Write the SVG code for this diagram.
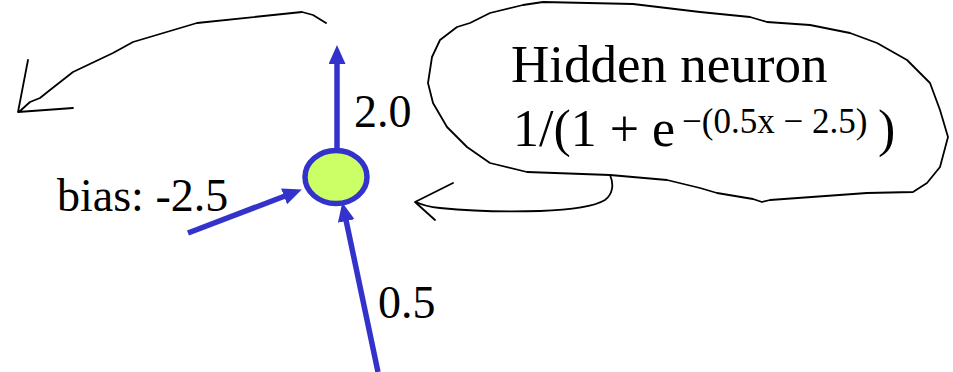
<svg xmlns="http://www.w3.org/2000/svg" width="953" height="372" viewBox="0 0 953 372">
<style>
.t{font-family:"Liberation Serif","Times New Roman",serif;fill:#000}
.ink{fill:none;stroke:#000;stroke-width:1.8;stroke-linejoin:round;stroke-linecap:round}
.wire{fill:none;stroke:#3333cc;stroke-width:5.5}
</style>
<defs>
<marker id="ah" markerUnits="userSpaceOnUse" markerWidth="20" markerHeight="18" refX="1" refY="8.5" orient="auto">
<path d="M0,0 L19,8.5 L0,17 z" fill="#3333cc"/>
</marker>
</defs>
<rect width="953" height="372" fill="#fff"/>
<g id="connectors">
<line class="wire" x1="337" y1="150" x2="337" y2="63" marker-end="url(#ah)"/>
<line class="wire" x1="188" y1="233" x2="285" y2="196" marker-end="url(#ah)"/>
<line class="wire" x1="378" y1="372" x2="346" y2="220" marker-end="url(#ah)"/>
<path id="out-arrow" class="ink" d="M326,23 L313,15 L302,12 L197,23 L133,42 L113,53 L73,72 L50,90 L40,98 L30,102 L20,111 M28,60 L18,112 L73,108"/>
<path id="callout-tail" class="ink" d="M610,175 C614,184 613,194 605,200 C595,206 570,210 540,211 C510,212 470,211 440,208 C430,207 422,205 416,202 M453,183 L415,202 L435,220"/>
</g>
<g id="neuron">
<ellipse cx="336" cy="177" rx="31" ry="26.5" fill="#ccff66" stroke="#3333cc" stroke-width="5.5"/>
</g>
<g id="callout">
<path class="ink" d="M543,2 L633,4 L700,12 L750,17 L767,22 L810,25 L850,33 L877,43 L907,60 L930,83 L940,110 L948,137 L940,167 L927,183 L913,192 L867,193 L770,200 L762,202 L753,199 L717,193 L700,188 L667,180 L610,175 L527,172 L490,163 L467,147 L447,127 L433,103 L428,83 L432,57 L440,40 L457,27 L470,23 L490,13 L523,5 Z"/>
<text class="t" x="511" y="82" font-size="53">Hidden neuron</text>
<text class="t" x="513" y="146" font-size="52">1/(1 + e</text>
<text class="t" x="682" y="133" font-size="35">−(0.5x − 2.5)</text>
<text class="t" x="878" y="146" font-size="52">)</text>
</g>
<g id="labels">
<text class="t" x="354" y="127" font-size="46">2.0</text>
<text class="t" x="57" y="211" font-size="46">bias: -2.5</text>
<text class="t" x="378" y="318" font-size="46">0.5</text>
</g>
</svg>
